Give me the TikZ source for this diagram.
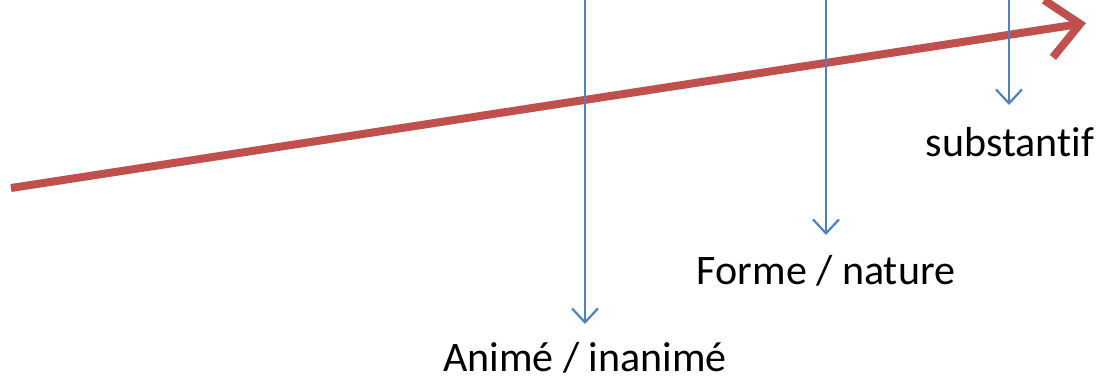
\documentclass[tikz,border=0pt]{standalone}
\usepackage{fontspec}
\setmainfont[Ligatures=NoCommon]{Carlito}
\usetikzlibrary{arrows.meta}

\begin{document}
\begin{tikzpicture}[x=1pt, y=-1pt, every node/.style={font=\fontsize{42}{48}\selectfont}]
  \tikzset{
    axis/.style={line width=8pt, draw={rgb,255:red,192;green,80;blue,77}, -{Straight Barb[length=32pt, width=58pt, line width=8pt]}},
    drop/.style={line width=2.2pt, draw={rgb,255:red,79;green,129;blue,189}, -{Straight Barb[length=14pt, width=26pt, line width=2.2pt]}},
    lbl/.style={anchor=base, inner sep=0pt}
  }
  \useasboundingbox (0,0) rectangle (1096,381);
  % the three levels
  \node[lbl] (subst) at (1010,156) {substantif};
  \node[lbl] (forme) at (826,284)  {Forme / nature};
  \node[lbl] (anime) at (585,371)  {Animé / inanimé};
  \coordinate (t1) at (1009,0);
  \coordinate (t2) at (826,0);
  \coordinate (t3) at (585,0);
  \coordinate (b1) at (1009,105);
  \coordinate (b2) at (826,235);
  \coordinate (b3) at (585,324);
  % main axis
  \coordinate (start) at (11,188);
  \coordinate (end)   at (1086,23);
  \draw[axis] (start) -- (end);
  \draw[drop] (t1) -- (b1);
  \draw[drop] (t2) -- (b2);
  \draw[drop] (t3) -- (b3);
\end{tikzpicture}
\end{document}
